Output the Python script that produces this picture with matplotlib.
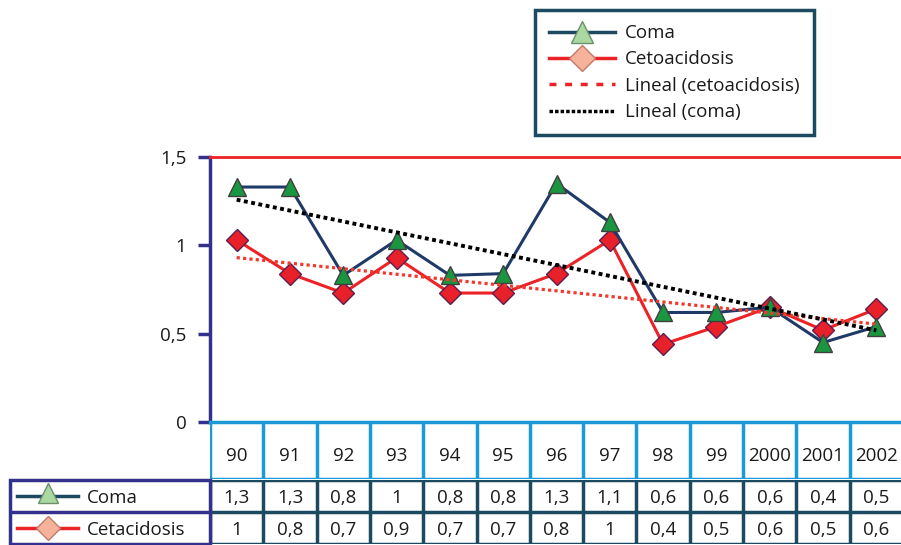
import numpy as np
import matplotlib.pyplot as plt
from matplotlib.lines import Line2D
from matplotlib.patches import Rectangle

plt.rcParams['font.family'] = ['Open Sans', 'DejaVu Sans']

# data
years = ['90', '91', '92', '93', '94', '95', '96', '97', '98', '99', '2000', '2001', '2002']
coma = [1.33, 1.33, 0.83, 1.03, 0.83, 0.84, 1.35, 1.13, 0.62, 0.62, 0.65, 0.45, 0.54]
ceto = [1.03, 0.84, 0.73, 0.93, 0.73, 0.73, 0.84, 1.03, 0.44, 0.54, 0.65, 0.52, 0.64]
coma_txt = ['1,3', '1,3', '0,8', '1', '0,8', '0,8', '1,3', '1,1', '0,6', '0,6', '0,6', '0,4', '0,5']
ceto_txt = ['1', '0,8', '0,7', '0,9', '0,7', '0,7', '0,8', '1', '0,4', '0,5', '0,6', '0,5', '0,6']
row_names = ['Coma', 'Cetacidosis']
yticks = [0, 0.5, 1, 1.5]
ytick_labels = ['0', '0,5', '1', '1,5']

# colours
NAVY = '#1f3a68'
RED = '#ec2227'
GREEN = '#1a9640'
LIGHTBLUE = '#1b9ad6'
PURPLE = '#33318c'
TEAL = '#1c4a60'
TXT = '#1a1a1a'

W, H = 901, 545
fig = plt.figure(figsize=(W / 100, H / 100), dpi=100)


def px(x0, y0, x1, y1):
    # pixel box (top-left origin) -> figure fraction
    return [x0 / W, 1 - y1 / H, (x1 - x0) / W, (y1 - y0) / H]


x = np.arange(len(years))

# main plot
ax = fig.add_axes(px(210, 157, 903, 422))
ax.plot(x, ceto, color=RED, lw=2.2, marker='D', ms=11, mfc='#e8202a',
        mec='#5a1f4f', mew=1, zorder=3)
ax.plot(x, coma, color=NAVY, lw=2.2, marker='^', ms=13, mfc=GREEN,
        mec='#404040', mew=1, zorder=4)

# linear trends
fit_c = np.polyfit(x, ceto, 1)
fit_m = np.polyfit(x, coma, 1)
ax.plot(x, np.polyval(fit_c, x), color='#f03a2e', lw=2.3, ls=(0, (1, 1)), zorder=5)
ax.plot(x, np.polyval(fit_m, x), color='black', lw=2.8, ls=(0, (1, 0.9)), zorder=6)

ax.set_xlim(-0.5, 12.5)
ax.set_ylim(0, 1.5)
ax.set_xticks([])
ax.set_yticks(yticks, ytick_labels)
ax.tick_params(axis='y', length=9, width=2.5, color=PURPLE, labelsize=13.5,
               labelcolor=TXT, pad=8)
ax.spines['right'].set_visible(False)
ax.spines['top'].set_color(RED)
ax.spines['top'].set_linewidth(2)
ax.spines['left'].set_color(PURPLE)
ax.spines['left'].set_linewidth(2.5)
ax.spines['bottom'].set_color(LIGHTBLUE)
ax.spines['bottom'].set_linewidth(2.5)

# header row with years
axh = fig.add_axes(px(210, 422, 903, 479))
axh.set_xlim(-0.5, 12.5)
axh.set_ylim(0, 1)
axh.axis('off')
axh.vlines(np.arange(len(years) + 1) - 0.5, 0, 1, color=LIGHTBLUE, lw=2.5)
axh.axhline(0, color=LIGHTBLUE, lw=2.5)
for i, yr in enumerate(years):
    axh.text(i, 0.4, yr, ha='center', va='center', fontsize=13.5, color=TXT)

# data rows
axd = fig.add_axes(px(210, 480, 903, 544))
axd.set_xlim(-0.5, 12.5)
axd.set_ylim(2, 0)
axd.axis('off')
axd.vlines(np.arange(len(years) + 1) - 0.5, 0, 2, color=TEAL, lw=2.5)
axd.hlines([0, 1, 2], -0.5, 12.5, color=TEAL, lw=2.5)
for r, vals in enumerate([coma_txt, ceto_txt]):
    for i, v in enumerate(vals):
        axd.text(i, r + 0.55, v, ha='center', va='center', fontsize=13.5, color=TXT)

# row labels with legend keys
axl = fig.add_axes(px(10, 480, 210, 544))
axl.set_xlim(0, 200)
axl.set_ylim(2, 0)
axl.axis('off')
axl.add_patch(Rectangle((0, 0), 200, 2, fill=False, ec=PURPLE, lw=2.5, clip_on=False))
axl.axhline(1, color=PURPLE, lw=2.5)
axl.plot([7, 68], [0.5, 0.5], color='#1d4a60', lw=2.5)
axl.plot([38], [0.42], marker='^', ms=15, mfc='#a9d9a0', mec='#6e8f6e', mew=1)
axl.plot([7, 68], [1.5, 1.5], color=RED, lw=2.5)
axl.plot([38], [1.5], marker='D', ms=12, mfc='#f6b29a', mec='#c07a6a', mew=1)
for r, name in enumerate(row_names):
    axl.text(77, r + 0.55, name, ha='left', va='center', fontsize=13.5, color=TXT)

# legend
handles = [
    Line2D([], [], color='#1d4a60', lw=2.5, marker='^', ms=16, mfc='#a9d9a0', mec='#6e8f6e'),
    Line2D([], [], color=RED, lw=2.5, marker='D', ms=13, mfc='#f6b29a', mec='#c07a6a'),
    Line2D([], [], color=RED, lw=2.5, ls=(0, (2, 2.5))),
    Line2D([], [], color='black', lw=2.5, ls=(0, (1, 0.6))),
]
labels = ['Coma', 'Cetoacidosis', 'Lineal (cetoacidosis)', 'Lineal (coma)']
leg = fig.legend(handles, labels, loc='upper left', bbox_to_anchor=(535 / W, 1 - 10 / H),
                 fontsize=13.5, handlelength=3.5, labelspacing=0.45, borderpad=0.75,
                 handletextpad=0.55, fancybox=False, framealpha=1, borderaxespad=0)
leg.get_frame().set_edgecolor(TEAL)
leg.get_frame().set_linewidth(2.5)
for t in leg.get_texts():
    t.set_color(TXT)

fig.savefig('out.png', dpi=100)
